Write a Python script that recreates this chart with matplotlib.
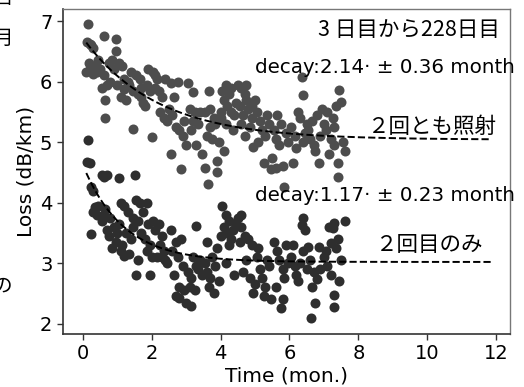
import numpy as np
import matplotlib
matplotlib.use("Agg")
import matplotlib.pyplot as plt

plt.rcParams["font.family"] = ["DejaVu Sans", "Noto Sans CJK JP"]

# 2回とも照射 (upper series): time in months, loss in dB/km
both_t = [
    0.15, 0.12, 0.2, 0.25, 0.3, 0.18, 0.1, 0.22, 0.35, 0.4, 0.3, 0.45,
    0.6, 0.95, 0.95, 0.75, 0.85, 0.6, 0.7, 0.55, 0.65, 0.65, 0.8, 0.9, 0.5,
    1.05, 1.15, 1.2, 1.3, 1.1, 1.25, 1.35, 1.45, 1.45, 1.4, 1.0, 1.2,
    1.55, 1.65, 1.7, 1.6, 1.75, 1.8, 1.85, 1.9, 1.95, 1.7,
    2.05, 2.1, 2.15, 2.2, 2.3, 2.25, 2.35, 2.45, 2.0, 2.4, 2.1,
    2.55, 2.75, 2.65, 2.6, 2.7, 2.8, 2.9, 2.55, 2.85, 2.95, 2.5,
    3.05, 3.2, 3.1, 3.25, 3.35, 3.15, 3.0, 3.3, 3.45, 3.4, 3.2,
    3.65, 3.55, 3.7, 3.8, 3.6, 3.75, 3.55, 3.62, 3.9, 3.9, 3.95, 3.85, 3.7,
    4.05, 4.15, 4.25, 4.1, 4.2, 4.3, 4.0, 4.4, 4.15, 4.35, 4.1, 4.45, 4.3, 4.0,
    4.5, 4.6, 4.7, 4.55, 4.75, 4.8, 4.65, 4.9, 4.85, 4.7, 4.95, 4.6, 4.9, 4.75,
    5.05, 5.15, 5.2, 5.3, 5.1, 5.4, 5.25, 5.45, 5.5, 5.35, 5.0,
    5.55, 5.6, 5.7, 5.75, 5.8, 5.85, 5.9, 5.65, 5.95, 5.6,
    6.05, 6.15, 6.2, 6.3, 6.4, 6.1, 6.35, 6.4, 6.45, 6.25, 6.5,
    6.55, 6.6, 6.7, 6.8, 6.85, 6.65, 6.9, 6.75, 7.0, 6.95,
    7.05, 7.15, 7.2, 7.3, 7.35, 7.4, 7.45, 7.5, 7.55, 7.25, 7.4, 7.6, 7.1, 7.3,
]
both_loss = [
    6.95, 6.65, 6.62, 6.6, 6.55, 6.3, 6.15, 6.2, 6.25, 6.15, 6.12, 6.35,
    6.75, 6.7, 6.5, 6.3, 6.35, 6.1, 5.95, 5.9, 5.7, 5.4, 6.0, 6.2, 6.2,
    6.3, 6.25, 6.05, 6.0, 5.75, 5.7, 5.95, 5.85, 5.22, 6.15, 5.95, 5.88,
    6.1, 6.05, 5.9, 5.8, 5.65, 5.6, 5.95, 6.2, 5.85, 5.75,
    6.15, 6.1, 6.05, 5.85, 5.75, 5.5, 5.4, 5.35, 5.08, 6.05, 5.9,
    5.97, 6.0, 5.75, 5.45, 5.25, 5.2, 5.1, 4.8, 4.55, 5.35, 5.55,
    5.98, 5.82, 5.55, 5.5, 5.3, 5.2, 4.95, 4.95, 4.8, 5.5, 5.35,
    5.85, 5.5, 5.55, 5.4, 5.1, 5.05, 4.57, 4.31, 4.68, 4.51, 5.0, 5.3, 5.25,
    5.85, 5.95, 5.8, 5.7, 5.6, 5.5, 5.4, 5.45, 5.3, 5.2, 4.85, 5.65, 5.9, 5.5,
    5.95, 5.9, 5.8, 5.6, 5.7, 5.55, 5.45, 5.4, 5.25, 5.1, 4.92, 5.3, 5.6, 5.95,
    5.5, 5.35, 5.2, 5.1, 5.0, 5.3, 4.66, 4.55, 4.74, 5.45, 5.7,
    5.2, 5.05, 4.95, 5.3, 4.6, 4.25, 5.15, 5.45, 5.0, 4.57,
    5.25, 5.1, 4.9, 5.4, 5.0, 4.66, 6.07, 5.78, 5.15, 5.5, 5.3,
    5.2, 5.05, 4.95, 5.45, 4.66, 5.35, 5.1, 4.85, 5.3, 5.55,
    5.2, 4.8, 5.05, 4.95, 5.6, 4.42, 5.86, 5.66, 5.0, 5.4, 4.66, 4.85, 5.5, 5.25,
]

# 2回目のみ (lower series)
second_t = [
    0.15, 0.12, 0.2, 0.25, 0.3, 0.35, 0.4, 0.25, 0.45, 0.3,
    0.55, 0.7, 0.6, 1.05, 0.65, 0.8, 0.55, 0.9, 0.75, 0.95, 0.6, 0.85, 1.0, 0.7,
    1.5, 1.1, 1.2, 1.3, 1.45, 1.05, 1.25, 1.4, 1.15, 1.35, 1.2, 1.45, 1.1,
    1.55, 1.65, 1.85, 1.75, 1.6, 1.9, 1.7, 1.8, 1.95, 1.6, 1.55, 1.95, 1.85,
    2.05, 2.2, 2.1, 2.3, 2.25, 2.35, 2.15, 2.4, 2.45, 2.0, 2.3,
    2.55, 2.7, 2.85, 2.6, 2.75, 2.9, 2.65, 2.8, 2.95, 2.7, 2.8, 3.0,
    3.05, 3.15, 3.2, 3.3, 3.4, 3.1, 3.25, 3.45, 3.3, 3.15, 3.35,
    3.55, 3.6, 3.7, 3.75, 3.85, 3.65, 3.8, 3.95, 3.9, 3.6,
    4.05, 4.15, 4.25, 4.1, 4.2, 4.0, 4.35, 4.3, 4.45, 4.15, 4.4, 4.25,
    4.5, 4.6, 4.7, 4.8, 4.9, 4.55, 4.75, 4.65, 4.85, 4.95, 4.6,
    5.05, 5.15, 5.2, 5.3, 5.1, 5.4, 5.25, 5.45, 5.35, 5.0,
    5.55, 5.65, 5.7, 5.8, 5.85, 5.6, 5.9, 5.75, 5.8, 5.95,
    6.05, 6.15, 6.2, 6.3, 6.4, 6.35, 6.45, 6.1, 6.25, 6.5, 6.4,
    6.55, 6.6, 6.7, 6.8, 6.85, 6.65, 6.9, 6.75, 6.62, 7.0,
    7.05, 7.2, 7.25, 7.3, 7.35, 7.1, 7.2, 7.3, 7.3, 7.45, 7.5, 7.15, 7.4, 7.6,
]
second_loss = [
    5.03, 4.67, 4.65, 4.25, 4.2, 3.92, 3.8, 3.48, 3.95, 3.85,
    4.45, 4.45, 4.42, 4.4, 3.9, 3.75, 3.7, 3.6, 3.45, 3.35, 3.8, 3.25, 3.5, 3.55,
    4.45, 4.0, 3.95, 3.85, 3.75, 3.65, 3.5, 3.4, 3.3, 3.15, 3.12, 3.6, 3.2,
    4.05, 4.0, 4.0, 3.85, 3.7, 3.65, 3.5, 3.4, 3.3, 3.05, 2.8, 2.8, 3.2,
    3.7, 3.65, 3.55, 3.45, 3.3, 3.2, 3.1, 3.05, 3.0, 3.1, 3.1,
    3.55, 3.35, 3.4, 3.2, 3.1, 2.95, 2.8, 2.6, 2.55, 2.45, 2.42, 2.35,
    2.85, 2.75, 3.1, 2.95, 3.05, 2.6, 2.55, 2.8, 3.62, 2.3, 2.9,
    3.0, 2.85, 2.75, 3.1, 2.95, 2.6, 2.5, 2.7, 3.25, 3.35,
    3.95, 3.8, 3.7, 3.6, 3.5, 3.45, 3.55, 3.4, 3.65, 3.0, 2.8, 3.3,
    3.75, 3.6, 3.45, 3.4, 3.3, 3.35, 3.05, 2.85, 2.75, 2.5, 3.8,
    3.1, 2.9, 2.75, 2.6, 3.25, 2.95, 2.45, 2.4, 3.05, 2.65,
    3.35, 3.2, 3.05, 2.9, 2.75, 2.6, 3.3, 2.26, 2.4, 3.0,
    3.1, 2.95, 2.8, 3.0, 3.75, 3.63, 3.55, 3.3, 2.7, 2.9, 3.2,
    3.27, 3.05, 2.85, 2.73, 3.27, 2.6, 2.9, 2.35, 2.1, 3.1,
    3.2, 3.33, 3.58, 3.66, 3.25, 2.95, 2.8, 2.48, 2.28, 2.7, 3.05, 3.6, 3.4, 3.7,
]

# exponential fits: loss = base + amp * exp(-t / tau)
both_fit = (5.04, 1.68, 2.14)
second_fit = (3.02, 1.60, 1.17)

fit_t = np.linspace(0.1, 11.85, 200)

fig = plt.figure(figsize=(5.24, 3.87), dpi=100)
ax = fig.add_axes([0.120, 0.137, 0.853, 0.840])

ax.scatter(both_t, both_loss, s=52, color="#4d4d4d", linewidths=0, zorder=2)
ax.scatter(second_t, second_loss, s=52, color="#2e2e2e", linewidths=0, zorder=2)

for base, amp, tau in (both_fit, second_fit):
    ax.plot(fit_t, base + amp * np.exp(-fit_t / tau), "k--", lw=1.4, zorder=3)

ax.set_xlim(-0.58, 12.4)
ax.set_ylim(1.83, 7.2)
ax.set_xticks([0, 2, 4, 6, 8, 10, 12])
ax.set_yticks([2, 3, 4, 5, 6, 7])
ax.tick_params(labelsize=14, length=4, width=1, color="#333333")
ax.set_xlabel("Time (mon.)", fontsize=14.5, labelpad=2)
ax.set_ylabel("Loss (dB/km)", fontsize=14.5, labelpad=3)

for side in ("left", "bottom"):
    ax.spines[side].set_color("#333333")
    ax.spines[side].set_linewidth(1.2)
for side in ("top", "right"):
    ax.spines[side].set_color("#777777")
    ax.spines[side].set_linewidth(1.0)

jp = ["Noto Sans CJK JP", "DejaVu Sans"]
ax.text(12.12, 6.85, "3 日目から228日目", family=jp, fontsize=15.5,
        ha="right", va="center")
ax.text(5.0, 6.24, "decay:2.14· ± 0.36 month", fontsize=14.3,
        ha="left", va="center", clip_on=False)
ax.text(8.26, 5.25, "２回とも照射", family=jp, fontsize=15.5, ha="left", va="center")
ax.text(5.0, 4.11, "decay:1.17· ± 0.23 month", fontsize=14.3,
        ha="left", va="center", clip_on=False)
ax.text(8.49, 3.30, "２回目のみ", family=jp, fontsize=15.5, ha="left", va="center")

# fragments of neighbouring text cut off at the left edge
fig.text(-0.012, 1.005, "目", family=jp, fontsize=14, va="center")
fig.text(-0.012, 0.90, "月", family=jp, fontsize=14, va="center")
fig.text(-0.014, 0.262, "の", family=jp, fontsize=14, va="center")

fig.savefig("out.png", dpi=100)
